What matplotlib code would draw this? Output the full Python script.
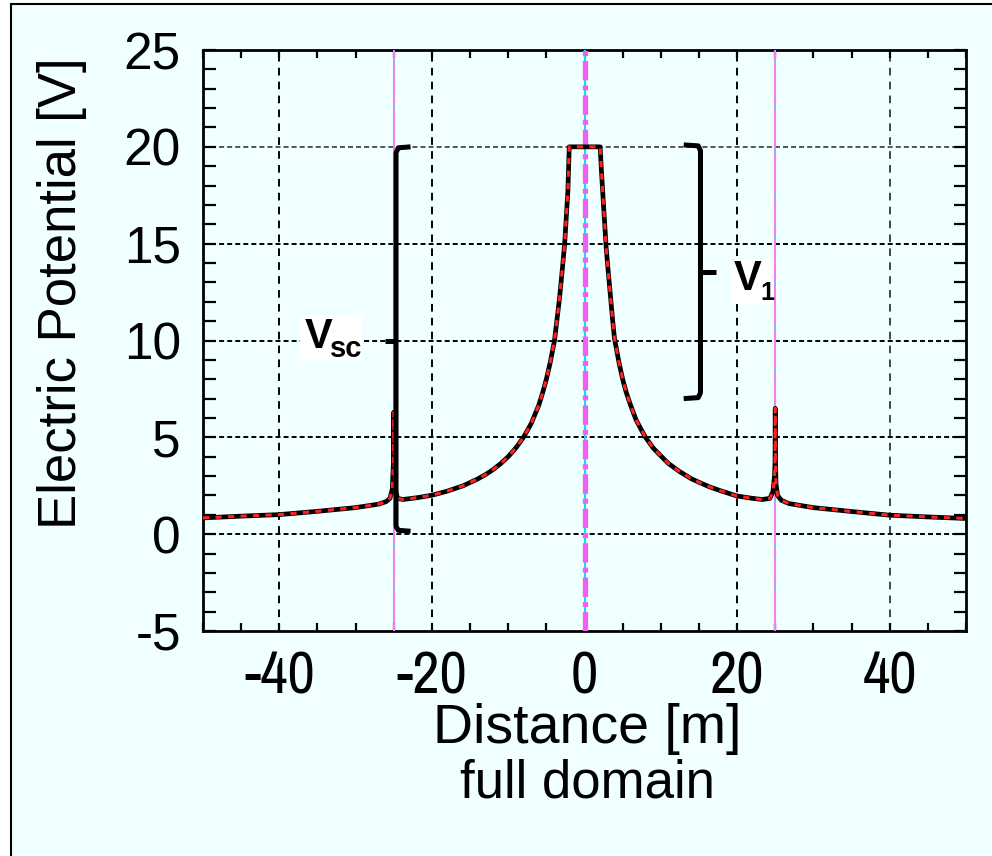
import matplotlib
matplotlib.use("Agg")
import matplotlib.pyplot as plt
from matplotlib.patches import Rectangle
from matplotlib import font_manager as fm

plt.rcParams['lines.scale_dashes'] = False
plt.rcParams['axes.unicode_minus'] = False
plt.rcParams['font.family'] = ['Liberation Sans', 'DejaVu Sans']

# ---------------- data ----------------
distance = [-50, -45, -40, -35, -30, -27, -26, -25.5, -25.2, -25.05, -25.0, -24.95,
            -24.8, -24.5, -23.8, -22, -20, -18, -15.9, -14, -13, -12, -11, -10, -9,
            -8.0, -7.0, -6.0, -5.45, -5.0, -4.5, -3.93, -3.6, -3.27, -2.9, -2.6,
            -2.35, -2.18, -2.0,
            -1.0, 0.0, 1.0,
            2.05, 2.2, 2.49, 2.84, 3.1, 3.4, 3.7, 3.93, 4.5, 5.0, 5.45, 6.0, 6.76,
            7.5, 8.0, 9.0, 9.8, 11, 12.4, 14, 15, 16.4, 18, 20, 22, 23.3, 24.3,
            24.7, 24.9, 24.97, 25.0, 25.03, 25.1, 25.3,
            25.8, 26.8, 30, 35, 40, 45, 50]
potential = [0.84, 0.93, 1.01, 1.18, 1.37, 1.55, 1.68, 1.85, 2.3, 3.6, 6.3, 3.6,
             2.3, 1.85, 1.79, 1.88, 2.01, 2.22, 2.5, 2.85, 3.07, 3.33, 3.64, 4.0, 4.45,
             5.0, 5.7, 6.65, 7.35, 8.0, 8.85, 10.0, 11.1, 12.2, 13.7, 15.0,
             16.6, 17.7, 20.0,
             20.0, 20.0, 20.0,
             20.0, 18.9, 17.0, 14.8, 13.6, 12.3, 11.0, 10.1, 8.9, 8.0, 7.35, 6.7, 5.9,
             5.35, 5.0, 4.45, 4.12, 3.65, 3.25, 2.86, 2.68, 2.44, 2.22, 1.97, 1.85, 1.79, 1.85,
             2.2, 3.0, 3.7, 6.5, 3.7, 2.6, 2.0,
             1.75, 1.58, 1.37, 1.17, 0.98, 0.89, 0.81]

x_limits = [-50, 50]
y_limits = [-5, 25]
x_major = [-40, -20, 0, 20, 40]
y_major = [-5, 0, 5, 10, 15, 20, 25]
x_grid_black = [-40, -20, 0, 20]
x_grid_grey = [40]
y_grid_black = [0, 5, 10, 15]
y_grid_grey = [20]
boundary_x = [-25, 25]
center_x = 0

# ---------------- figure ----------------
W, H = 992, 856
fig = plt.figure(figsize=(W / 100, H / 100), dpi=100, facecolor='white')
bg = '#f0ffff'
frame = Rectangle((11 / W, -0.05), 1.2, 1 - 4 / H + 0.05, transform=fig.transFigure,
                  facecolor=bg, edgecolor='black', lw=1.5, zorder=-10)
fig.patches.append(frame)

ax = fig.add_axes([203 / W, 225 / H, 763 / W, 581 / H])
ax.set_zorder(5)
ax.set_facecolor(bg)
ax.set_xlim(x_limits)
ax.set_ylim(y_limits)

# grid lines
for gx in x_grid_black:
    ax.axvline(gx, color='black', lw=1.4, dashes=(5.5, 4.5), zorder=1)
for gx in x_grid_grey:
    ax.axvline(gx, color='#444444', lw=1.4, dashes=(5.5, 4.5), zorder=1)
for gy in y_grid_black:
    ax.axhline(gy, color='black', lw=1.4, dashes=(3.6, 2.2), zorder=1)
for gy in y_grid_grey:
    ax.axhline(gy, color='#555555', lw=1.4, dashes=(3.6, 2.2), zorder=1)

# white label boxes
ax.add_patch(Rectangle((-37.3, 8.97), 8.2, 2.37, facecolor='white', edgecolor='none', zorder=2))
ax.add_patch(Rectangle((19.24, 11.86), 6.1, 2.32, facecolor='white', edgecolor='none', zorder=2))

# boundary lines
for bx in boundary_x:
    ax.axvline(bx, color='#00e5ee', lw=1.2, zorder=3)
    ax.axvline(bx, color='#ee82ee', lw=1.5, dashes=(30, 1.5), zorder=3)
ax.axvline(center_x, color='#00e5ee', lw=1.5, zorder=3)
ax.axvline(center_x, color='#f060f0', lw=3.8, dashes=(14, 3.6, 3.6, 3.6), zorder=3)

# potential curve
ax.plot(distance, potential, color='black', lw=3.4, zorder=4, solid_joinstyle='round')
ax.plot(distance, potential, color='#ff2020', lw=2.2, dashes=(4.5, 4.5), zorder=5)

# brackets
bk = dict(color='black', lw=3.6, solid_joinstyle='round', solid_capstyle='butt', zorder=6)
ax.plot([-22.8, -24.4, -24.7, -24.7, -24.4, -22.8], [20.0, 19.95, 19.7, 0.4, 0.2, 0.15], **bk)
ax.plot([-24.7, -26.2], [10.0, 10.0], **bk)
ax.plot([13.0, 14.9, 15.2, 15.2, 14.9, 13.0], [20.1, 20.05, 19.8, 7.3, 7.05, 7.0], **bk)
ax.plot([15.2, 17.3], [13.56, 13.56], **bk)

# labels V_sc and V_1
ax.text(-36.7, 10.2, 'V', fontsize=30, fontweight='bold', ha='left', va='center', zorder=7)
ax.text(-33.3, 9.55, 'sc', fontsize=21, fontweight='bold', ha='left', va='center', zorder=7)
ax.text(19.5, 13.15, 'V', fontsize=30, fontweight='bold', ha='left', va='center', zorder=7)
ax.text(23.0, 12.45, '1', fontsize=18, fontweight='bold', ha='left', va='center', zorder=7)

# ticks
ax.set_xticks(x_major)
ax.set_yticks(y_major)
ax.set_xticks(range(-50, 51, 5), minor=True)
ax.set_yticks(range(-5, 26, 1), minor=True)
ax.tick_params(which='both', direction='in', top=True, right=True, width=1.6, colors='black')
ax.tick_params(axis='y', which='both', length=9)
ax.tick_params(axis='x', which='both', length=6)
ax.tick_params(axis='y', labelsize=37, pad=16)

narrow = []
for e in fm.fontManager.ttflist:
    nm = e.name
    if ('Narrow' in nm or 'Condensed' in nm) and 'DejaVu' not in nm and nm not in narrow:
        narrow.append(nm)
if narrow:
    ax.tick_params(axis='x', labelsize=43, pad=14)
    for lab in ax.get_xticklabels():
        lab.set_family(narrow[:1] + ['Liberation Sans', 'DejaVu Sans'])
else:
    ax.tick_params(axis='x', labelsize=37, pad=18)
for sp in ax.spines.values():
    sp.set_linewidth(2.0)

fig.text(587 / W, 1 - 729 / H, 'Distance [m]', fontsize=40, ha='center', va='center')
fig.text(587 / W, 1 - 784 / H, 'full domain', fontsize=38, ha='center', va='center')
fig.text(62 / W, 1 - 293 / H, 'Electric Potential [V]', fontsize=38, rotation=90,
         ha='center', va='center')

fig.savefig('out.png', dpi=100, facecolor=fig.get_facecolor())
